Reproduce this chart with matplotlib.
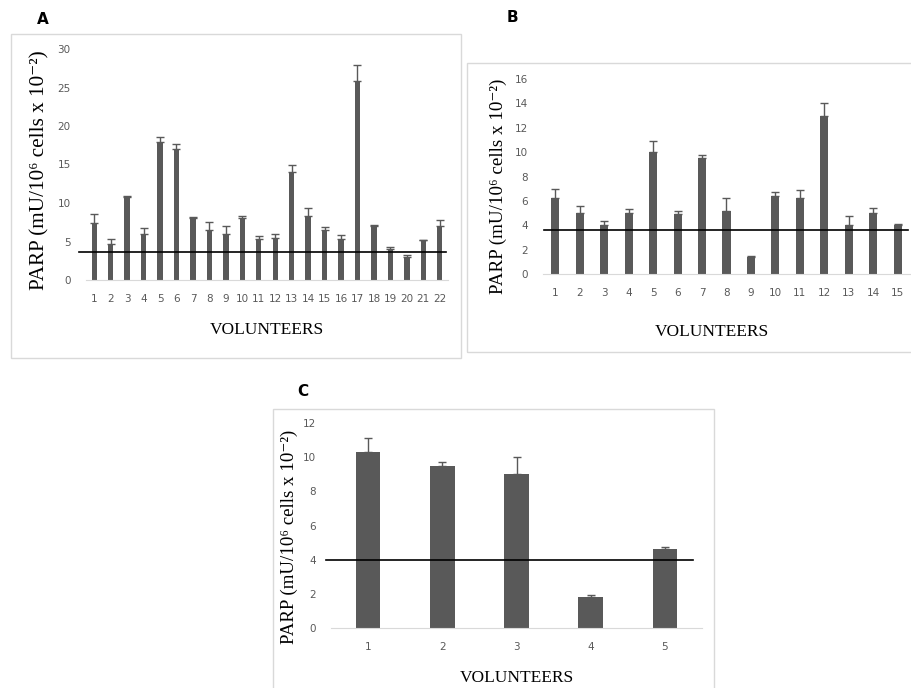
import matplotlib
matplotlib.use("Agg")
import matplotlib.pyplot as plt
from matplotlib.patches import Rectangle
import numpy as np

# --- datos ---
vol_a = list(range(1, 23))
parp_a = [7.4, 4.7, 10.8, 6.0, 17.9, 17.0, 8.0, 6.5, 6.0, 8.0, 5.3,
          5.4, 14.0, 8.3, 6.5, 5.3, 25.9, 7.0, 4.0, 3.0, 5.2, 7.0]
err_a = [1.2, 0.6, 0.1, 0.7, 0.7, 0.7, 0.2, 1.0, 1.0, 0.3, 0.45,
         0.6, 1.0, 1.0, 0.4, 0.6, 2.0, 0.2, 0.3, 0.2, 0.05, 0.75]
ref_a = 3.6

vol_b = list(range(1, 16))
parp_b = [6.2, 5.0, 4.0, 5.0, 10.0, 4.9, 9.5, 5.2, 1.4, 6.4, 6.2,
          13.0, 4.0, 5.0, 4.0]
err_b = [0.8, 0.6, 0.35, 0.3, 0.9, 0.3, 0.3, 1.0, 0.1, 0.3, 0.7,
         1.0, 0.8, 0.4, 0.12]
ref_b = 3.65

vol_c = list(range(1, 6))
parp_c = [10.3, 9.5, 9.0, 1.8, 4.6]
err_c = [0.8, 0.22, 1.0, 0.12, 0.13]
ref_c = 4.0

W, H = 912, 688
GRIS = '#595959'
BORDE = '#d9d9d9'
YLABEL = 'PARP (mU/10\u2076 cells x 10\u207b\u00b2)'
SERIF = ['Liberation Serif', 'DejaVu Serif']

fig = plt.figure(figsize=(W / 100, H / 100), dpi=100)


def px_axes(x0, y_top, x1, y_bot):
    # convierte coordenadas en píxeles a fracciones de figura
    ax = fig.add_axes([x0 / W, 1 - y_bot / H, (x1 - x0) / W, (y_bot - y_top) / H])
    ax._px = (x0, y_top, x1, y_bot)
    return ax


def caja(x0, y0, x1, y1):
    fig.patches.append(Rectangle((x0 / W, 1 - y1 / H), (x1 - x0) / W, (y1 - y0) / H,
                                 transform=fig.transFigure, fill=False,
                                 edgecolor=BORDE, linewidth=1.0))


def panel(ax, vols, vals, errs, ref, ymax, ystep, line_span, lbl_size, ylab_px, xlab_px):
    n = len(vols)
    x0, yt, x1, yb = ax._px
    ax.bar(vols, vals, width=0.33, color=GRIS, zorder=2)
    ax.errorbar(vols, vals, yerr=[np.zeros(n), errs], fmt='none', ecolor=GRIS,
                elinewidth=1.0, capsize=3, capthick=1.0, zorder=2)
    ax.plot(line_span, [ref, ref], color='black', linewidth=1.2,
            transform=ax.get_yaxis_transform(), clip_on=False, zorder=3)
    ax.set_xlim(0.5, n + 0.5)
    ax.set_ylim(0, ymax)
    ax.set_yticks(np.arange(0, ymax + 0.1, ystep))
    ax.set_xticks(vols)
    ax.tick_params(length=0, labelsize=7.5, labelcolor=GRIS, pad=10)
    ax.tick_params(axis='y', pad=11)
    for s in ['top', 'right', 'left']:
        ax.spines[s].set_visible(False)
    ax.spines['bottom'].set_color(BORDE)
    ax.set_facecolor('none')
    ax.set_ylabel(YLABEL, family=SERIF, fontsize=lbl_size, va='center')
    ax.set_xlabel('VOLUNTEERS', family=SERIF, fontsize=12.5, va='center')
    ax.yaxis.set_label_coords((ylab_px[0] - x0) / (x1 - x0), (yb - ylab_px[1]) / (yb - yt))
    ax.xaxis.set_label_coords((xlab_px[0] - x0) / (x1 - x0), (yb - xlab_px[1]) / (yb - yt))


# panel A
caja(11, 34, 461, 358)
ax_a = px_axes(86, 49, 448, 280)
panel(ax_a, vol_a, parp_a, err_a, ref_a, 30, 5, [-0.02, 0.995], 15.2, (40, 170), (267, 330))
fig.text(43 / W, 1 - 19 / H, 'A', fontsize=11, fontweight='bold', ha='center', va='center')

# panel B
caja(467, 63, 915, 352)
ax_b = px_axes(543, 79, 910, 274)
panel(ax_b, vol_b, parp_b, err_b, ref_b, 16, 2, [0.003, 0.995], 13.7, (498, 186), (712, 332))
fig.text(512 / W, 1 - 18 / H, 'B', fontsize=11, fontweight='bold', ha='center', va='center')

# panel C
caja(273, 409, 714, 692)
ax_c = px_axes(331, 423, 702, 628)
panel(ax_c, vol_c, parp_c, err_c, ref_c, 12, 2, [-0.013, 0.975], 13.6, (289, 537), (517, 678))
fig.text(303 / W, 1 - 392 / H, 'C', fontsize=11, fontweight='bold', ha='center', va='center')

fig.savefig('out.png', dpi=100)
